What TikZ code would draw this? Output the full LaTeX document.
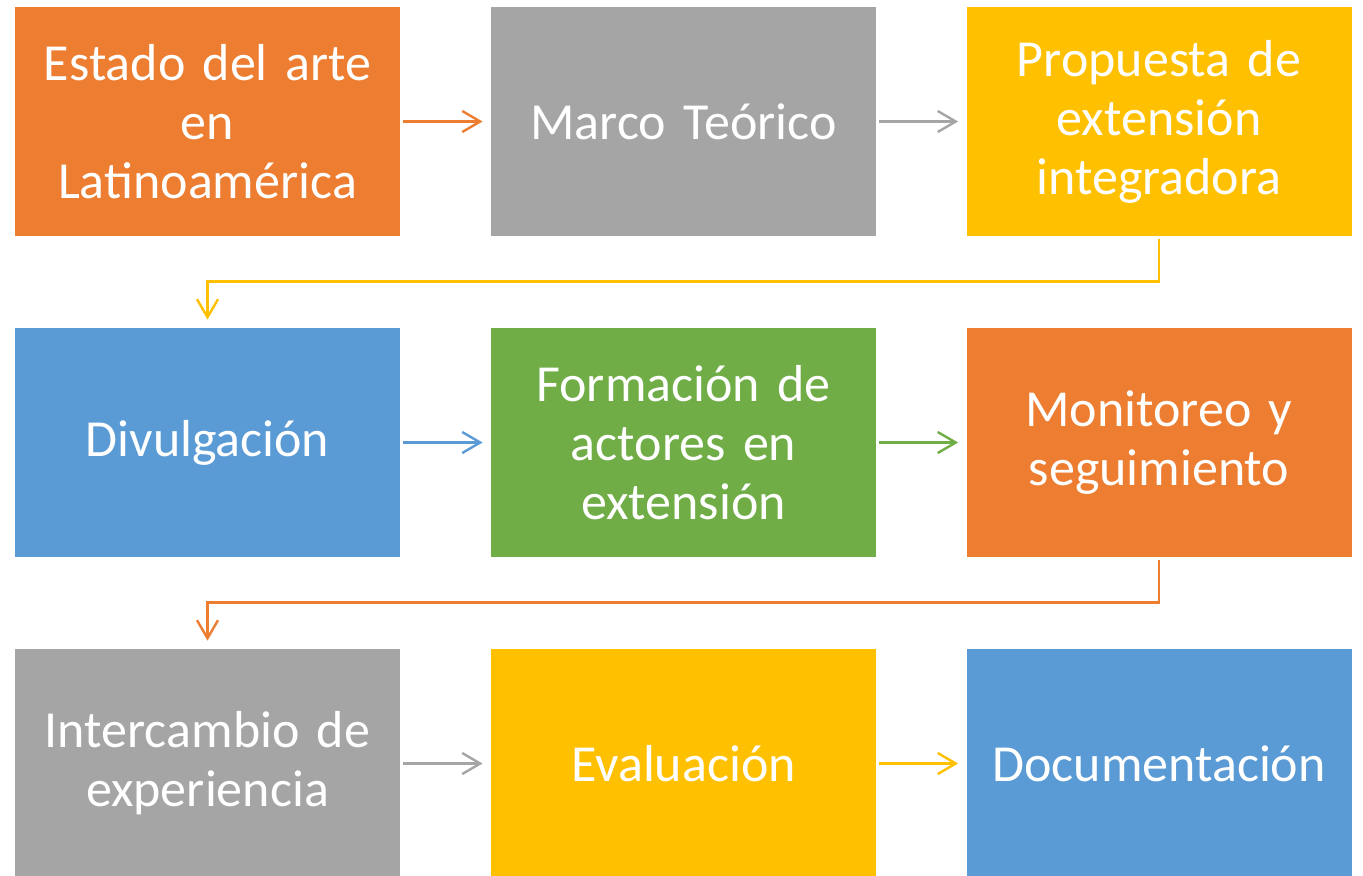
\documentclass[tikz,border=0pt]{standalone}
\usepackage{fontspec}
\setmainfont{Carlito}
\usetikzlibrary{arrows.meta}
\definecolor{naranja}{HTML}{ED7D31}
\definecolor{gris}{HTML}{A5A5A5}
\definecolor{amarillo}{HTML}{FFC000}
\definecolor{azul}{HTML}{5B9BD5}
\definecolor{verde}{HTML}{70AD47}
\tikzset{
  caja/.style={fill=#1, draw=none, text=white, minimum width=192.5pt, minimum height=114.5pt,
    text width=190pt, align=center, inner sep=0pt, font=\fontsize{26}{29.5}\selectfont},
  flecha/.style={draw=#1, line width=1.2pt, -{Straight Barb[length=9pt,width=10.5pt,line width=1.2pt]},
    shorten <=1.5pt, shorten >=4pt}
}

\begin{document}
\begin{tikzpicture}[x=0.5pt,y=-0.5pt]
   \useasboundingbox[fill=white] (0,0) rectangle (1363,875);
   \begin{scope}
     \clip (0,0) rectangle (1363,875);
     % fila 1
     \node[caja=naranja] (estado) at (207.5,121.5) {Estado del arte\\en\\Latinoamérica};
     \node[caja=gris] (marco) at (683.5,121.5) {Marco Teórico};
     \node[caja=amarillo] (propuesta) at (1159,121.5) {Propuesta de\\extensión\\integradora};
     % fila 2
     \node[caja=azul] (divulgacion) at (207.5,442.5) {Divulgación};
     \node[caja=verde] (formacion) at (683.5,442.5) {Formación de\\actores en\\extensión};
     \node[caja=naranja] (monitoreo) at (1159,442.5) {Monitoreo y\\seguimiento};
     % fila 3
     \node[caja=gris] (intercambio) at (207.5,763.5) {Intercambio de\\experiencia};
     \node[caja=amarillo] (evaluacion) at (683.5,763.5) {Evaluación};
     \node[caja=azul] (documentacion) at (1159,763.5) {Documentación};
   \end{scope}

   \draw[flecha=naranja] (estado) -- (marco);
   \draw[flecha=gris] (marco) -- (propuesta);
   \draw[flecha=amarillo] (propuesta.south) -- ++(0,45) -| (divulgacion.north);

   \draw[flecha=azul] (divulgacion) -- (formacion);
   \draw[flecha=verde] (formacion) -- (monitoreo);
   \draw[flecha=naranja] (monitoreo.south) -- ++(0,45) -| (intercambio.north);

   \draw[flecha=gris] (intercambio) -- (evaluacion);
   \draw[flecha=amarillo] (evaluacion) -- (documentacion);
 \end{tikzpicture}
\end{document}
